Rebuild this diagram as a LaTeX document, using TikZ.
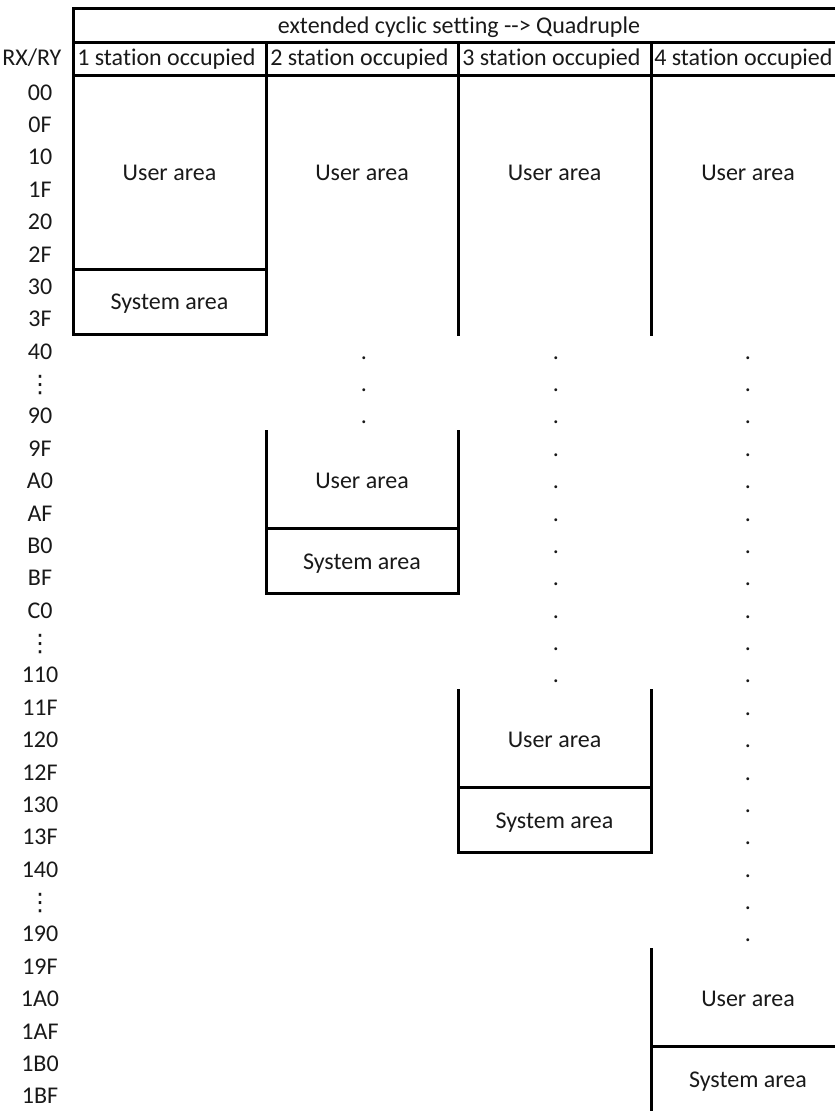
\documentclass[tikz,border=0pt]{standalone}
\usepackage{fontspec}
\setmainfont{Carlito}[Ligatures={NoCommon}]
\newfontfamily\dvs{DejaVu Sans}
\begin{document}
\begin{tikzpicture}[x=0.75pt,y=-0.75pt,
  grid/.style={line width=2.25pt,line cap=rect,black},
  txt/.style={font=\fontsize{18}{20}\selectfont,inner sep=0pt,anchor=base,text=black!90},
  lbl/.style={txt},
  dotmark/.style={txt},
  vell/.style={font=\dvs\fontsize{18}{20}\selectfont,inner sep=0pt,anchor=center,text=black!90}]
\useasboundingbox (0,0) rectangle (835,1111);
\def\rh{32.375}
% header lines
\draw[grid] (73,8) -- (845,8);
\draw[grid] (73,42) -- (845,42);
\draw[grid] (73,75) -- (845,75);
\draw[grid] (73,8) -- (73,334);
\draw[grid] (266,42) -- (266,334);
\draw[grid] (458,42) -- (458,334);
\draw[grid] (651,42) -- (651,334);
% column 1
\draw[grid] (73,269.25) -- (266,269.25);
\draw[grid] (73,334) -- (266,334);
% column 2 lower box
\draw[grid] (266,431) -- (266,593) -- (458,593) -- (458,431);
\draw[grid] (266,528) -- (458,528);
% column 3 lower box
\draw[grid] (458,690) -- (458,852) -- (651,852) -- (651,690);
\draw[grid] (458,787) -- (651,787);
% column 4 lower box
\draw[grid] (651,949) -- (651,1112) -- (845,1112);
\draw[grid] (651,1046) -- (845,1046);
% header texts
\node[txt] (title) at (459,33) {extended cyclic setting {-}{-}> Quadruple};
\node[txt,anchor=base west] (rxry) at (2,65) {RX/RY};
\node[txt,anchor=base west] (h1) at (77,65) {1 station occupied};
\node[txt,anchor=base west] (h2) at (270,65) {2 station occupied};
\node[txt,anchor=base west] (h3) at (462,65) {3 station occupied};
\node[txt,anchor=base west] (h4) at (654,65) {4 station occupied};
% row labels
\foreach \k/\t in {0/00,1/0F,2/10,3/1F,4/20,5/2F,6/30,7/3F,8/40,10/90,11/9F,12/A0,13/AF,14/B0,15/BF,16/C0,18/110,19/11F,20/120,21/12F,22/130,23/13F,24/140,26/190,27/19F,28/1A0,29/1AF,30/1B0,31/1BF}{
  \pgfmathsetmacro\yy{75+(\k+0.5)*\rh+9}
  \node[lbl] (r\k) at (40,\yy) {\t};
}
\foreach \k in {9,17,25}{
  \pgfmathsetmacro\yy{75+(\k+0.5)*\rh+2.5}
  \node[vell] (r\k) at (40,\yy) {⋮};
}
% area texts
\node[txt] (u1) at (169.5,180) {User area};
\node[txt] (s1) at (169.5,309) {System area};
\node[txt] (u2) at (362,180) {User area};
\node[txt] (u3) at (554.5,180) {User area};
\node[txt] (u4) at (748,180) {User area};
\node[txt] (u2b) at (362,488) {User area};
\node[txt] (s2b) at (362,569) {System area};
\node[txt] (u3b) at (554.5,747) {User area};
\node[txt] (s3b) at (554.5,828.5) {System area};
\node[txt] (u4b) at (748,1006) {User area};
\node[txt] (s4b) at (748,1087) {System area};
% dots
\foreach \k in {8,9,10}{
  \pgfmathsetmacro\yy{75+(\k+0.5)*\rh+9}
  \node[dotmark] (da\k) at (364,\yy) {.};
}
\foreach \k in {8,...,18}{
  \pgfmathsetmacro\yy{75+(\k+0.5)*\rh+9}
  \node[dotmark] (db\k) at (556,\yy) {.};
}
\foreach \k in {8,...,26}{
  \pgfmathsetmacro\yy{75+(\k+0.5)*\rh+9}
  \node[dotmark] (dc\k) at (748,\yy) {.};
}
\end{tikzpicture}
\end{document}
